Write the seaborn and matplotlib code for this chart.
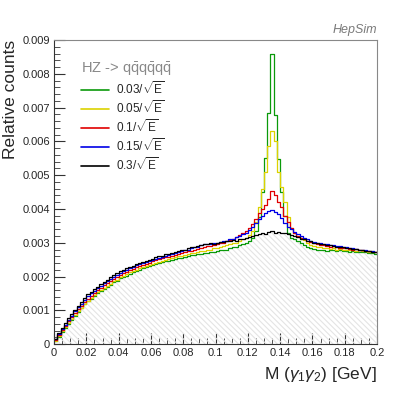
import numpy as np
import pandas as pd
import seaborn as sns
import matplotlib.pyplot as plt
from matplotlib.ticker import MultipleLocator

# bin edges: 100 bins between 0 and 0.2 GeV
n_bins = 100
edges = np.linspace(0, 0.2, n_bins + 1)
centers = 0.5 * (edges[:-1] + edges[1:])

# relative counts (x 1e-3)
res_003 = [0.08, 0.22, 0.36, 0.48, 0.60, 0.72, 0.84, 0.96, 1.06, 1.18,
           1.27, 1.34, 1.42, 1.50, 1.56, 1.64, 1.70, 1.76, 1.83, 1.88,
           1.95, 2.00, 2.03, 2.08, 2.12, 2.16, 2.20, 2.24, 2.27, 2.30,
           2.34, 2.36, 2.40, 2.42, 2.45, 2.47, 2.50, 2.52, 2.54, 2.56,
           2.58, 2.61, 2.63, 2.64, 2.66, 2.68, 2.70, 2.71, 2.72, 2.74,
           2.75, 2.78, 2.79, 2.80, 2.84, 2.86, 2.88, 2.92, 2.95, 3.00,
           3.05, 3.15, 3.35, 3.75, 4.50, 5.50, 6.85, 8.58, 6.77, 5.47,
           4.50, 3.80, 3.30, 3.15, 3.10, 3.05, 3.00, 2.93, 2.88, 2.85,
           2.82, 2.80, 2.78, 2.80, 2.77, 2.78, 2.79, 2.76, 2.78, 2.75,
           2.76, 2.74, 2.75, 2.73, 2.74, 2.72, 2.73, 2.71, 2.70, 2.68]

res_005 = [0.10, 0.24, 0.38, 0.50, 0.62, 0.74, 0.86, 0.98, 1.08, 1.20,
           1.29, 1.37, 1.45, 1.53, 1.59, 1.67, 1.73, 1.79, 1.86, 1.91,
           1.98, 2.03, 2.07, 2.12, 2.16, 2.20, 2.24, 2.28, 2.31, 2.34,
           2.38, 2.41, 2.44, 2.47, 2.50, 2.52, 2.55, 2.57, 2.60, 2.62,
           2.64, 2.67, 2.69, 2.71, 2.73, 2.75, 2.77, 2.79, 2.80, 2.83,
           2.85, 2.87, 2.90, 2.92, 2.95, 2.98, 3.00, 3.04, 3.10, 3.15,
           3.22, 3.35, 3.60, 4.05, 4.60, 5.10, 5.85, 6.30, 6.00, 5.10,
           4.65, 4.20, 3.75, 3.45, 3.30, 3.17, 3.12, 3.08, 3.00, 2.92,
           2.90, 2.88, 2.86, 2.84, 2.85, 2.82, 2.83, 2.80, 2.81, 2.79,
           2.80, 2.78, 2.79, 2.77, 2.78, 2.76, 2.77, 2.74, 2.75, 2.72]

res_01 = [0.12, 0.27, 0.42, 0.55, 0.67, 0.80, 0.92, 1.04, 1.14, 1.26,
          1.35, 1.43, 1.52, 1.60, 1.66, 1.74, 1.80, 1.86, 1.93, 1.98,
          2.05, 2.10, 2.14, 2.19, 2.23, 2.27, 2.31, 2.35, 2.38, 2.41,
          2.45, 2.48, 2.51, 2.54, 2.57, 2.59, 2.62, 2.64, 2.67, 2.69,
          2.72, 2.75, 2.77, 2.80, 2.82, 2.85, 2.87, 2.90, 2.91, 2.93,
          2.95, 2.98, 3.00, 3.05, 3.08, 3.12, 3.18, 3.22, 3.28, 3.35,
          3.44, 3.55, 3.70, 3.88, 4.00, 4.12, 4.30, 4.52, 4.40, 4.22,
          4.05, 3.80, 3.60, 3.45, 3.30, 3.20, 3.15, 3.10, 3.05, 3.02,
          2.98, 2.96, 2.94, 2.92, 2.90, 2.88, 2.89, 2.86, 2.84, 2.85,
          2.83, 2.82, 2.80, 2.81, 2.78, 2.79, 2.76, 2.77, 2.74, 2.73]

res_015 = [0.15, 0.30, 0.45, 0.58, 0.72, 0.84, 0.97, 1.09, 1.20, 1.32,
           1.42, 1.50, 1.58, 1.66, 1.72, 1.80, 1.86, 1.92, 1.98, 2.04,
           2.10, 2.15, 2.20, 2.25, 2.28, 2.33, 2.36, 2.40, 2.43, 2.46,
           2.50, 2.53, 2.56, 2.59, 2.62, 2.64, 2.67, 2.70, 2.72, 2.75,
           2.78, 2.80, 2.83, 2.86, 2.88, 2.92, 2.95, 2.97, 2.96, 2.98,
           3.00, 3.02, 3.04, 3.06, 3.10, 3.12, 3.16, 3.20, 3.25, 3.30,
           3.38, 3.48, 3.58, 3.70, 3.80, 3.88, 3.93, 3.98, 3.92, 3.85,
           3.72, 3.58, 3.48, 3.40, 3.32, 3.25, 3.20, 3.15, 3.10, 3.06,
           3.02, 3.00, 2.98, 2.96, 2.95, 2.93, 2.92, 2.90, 2.90, 2.88,
           2.86, 2.85, 2.83, 2.82, 2.80, 2.79, 2.78, 2.76, 2.75, 2.73]

res_03 = [0.16, 0.32, 0.47, 0.62, 0.76, 0.88, 1.01, 1.13, 1.25, 1.37,
          1.47, 1.55, 1.63, 1.70, 1.78, 1.85, 1.91, 1.98, 2.04, 2.09,
          2.16, 2.20, 2.25, 2.28, 2.32, 2.36, 2.40, 2.43, 2.47, 2.50,
          2.53, 2.57, 2.60, 2.62, 2.66, 2.68, 2.71, 2.73, 2.76, 2.78,
          2.80, 2.84, 2.86, 2.88, 2.90, 2.93, 2.95, 2.96, 2.98, 2.97,
          3.00, 3.02, 3.01, 3.04, 3.05, 3.08, 3.06, 3.10, 3.12, 3.15,
          3.16, 3.20, 3.22, 3.26, 3.28, 3.25, 3.32, 3.35, 3.30, 3.33,
          3.28, 3.30, 3.25, 3.22, 3.20, 3.18, 3.12, 3.10, 3.06, 3.04,
          3.00, 2.98, 2.96, 2.95, 2.93, 2.92, 2.90, 2.88, 2.87, 2.86,
          2.85, 2.83, 2.82, 2.81, 2.79, 2.78, 2.76, 2.77, 2.74, 2.72]

labels = ['0.03/$\\sqrt{\\mathrm{E}}$', '0.05/$\\sqrt{\\mathrm{E}}$', '0.1/$\\sqrt{\\mathrm{E}}$',
          '0.15/$\\sqrt{\\mathrm{E}}$', '0.3/$\\sqrt{\\mathrm{E}}$']
series = [res_003, res_005, res_01, res_015, res_03]
colors = ['#0a9a0a', '#dcd200', '#e00000', '#0000e6', '#000000']

xticks = [0, 0.02, 0.04, 0.06, 0.08, 0.1, 0.12, 0.14, 0.16, 0.18, 0.2]
xticklabels = ['0', '0.02', '0.04', '0.06', '0.08', '0.1', '0.12', '0.14', '0.16', '0.18', '0.2']
yticks = [0, 0.001, 0.002, 0.003, 0.004, 0.005, 0.006, 0.007, 0.008, 0.009]
yticklabels = ['0', '0.001', '0.002', '0.003', '0.004', '0.005', '0.006', '0.007', '0.008', '0.009']

sns.set_style('ticks')
plt.rcParams['font.family'] = ['Liberation Sans', 'DejaVu Sans']
plt.rcParams['mathtext.fontset'] = 'custom'
plt.rcParams['mathtext.rm'] = 'Liberation Sans'
plt.rcParams['mathtext.it'] = 'Liberation Sans:italic'
plt.rcParams['hatch.color'] = '#e4e4e4'
plt.rcParams['hatch.linewidth'] = 0.8

fig = plt.figure(figsize=(4.19, 3.96), dpi=100)
ax = fig.add_axes([0.129, 0.131, 0.771, 0.768])

# hatched area under the lowest curve
low = np.minimum.reduce([np.array(s) for s in series]) * 1e-3
ax.fill_between(edges, np.append(low, low[-1]), step='post', facecolor='none',
                edgecolor='#e4e4e4', hatch='\\' * 6, linewidth=0)

for lab, col, vals in zip(labels, colors, series):
    sub = pd.DataFrame({'x': centers, 'w': np.array(vals) * 1e-3})
    sns.histplot(data=sub, x='x', weights='w', bins=n_bins, binrange=(0, 0.2),
                 element='step', fill=False, color=col, linewidth=0.9,
                 label=lab, ax=ax)

ax.set_xlim(0, 0.2)
ax.set_ylim(0, 0.009)
ax.set_xticks(xticks)
ax.set_xticklabels(xticklabels)
ax.set_yticks(yticks)
ax.set_yticklabels(yticklabels)
ax.xaxis.set_minor_locator(MultipleLocator(0.005))
ax.yaxis.set_minor_locator(MultipleLocator(0.0002))
ax.tick_params(which='major', direction='in', length=8, width=0.8, labelsize=8,
               color='#333333', pad=3)
ax.tick_params(which='minor', direction='in', length=4, width=0.6, color='#333333')

for s in ['left', 'bottom']:
    ax.spines[s].set_color('#333333')
for s in ['top', 'right']:
    ax.spines[s].set_visible(True)
    ax.spines[s].set_color('#888888')

ax.set_xlabel('M ($\\gamma_{1}\\gamma_{2}$) [GeV]', fontsize=12.5, loc='right', labelpad=5)
ax.set_ylabel('Relative counts', fontsize=12.5, loc='top', labelpad=3)

leg = ax.legend(loc='upper left', bbox_to_anchor=(0.05, 0.97), frameon=False,
                fontsize=8.5, handlelength=2.4, handletextpad=0.6, labelspacing=0.2,
                title='HZ -> q$\\bar{\\mathrm{q}}$q$\\bar{\\mathrm{q}}$q$\\bar{\\mathrm{q}}$',
                title_fontsize=10.5, alignment='left')
leg.get_title().set_color('#888888')
for line in leg.get_lines():
    line.set_linewidth(1.2)

fig.text(0.9, 0.91, 'HepSim', ha='right', va='bottom', fontsize=9,
         style='italic', color='#7a7a7a')

fig.savefig('out.png', dpi=100)
